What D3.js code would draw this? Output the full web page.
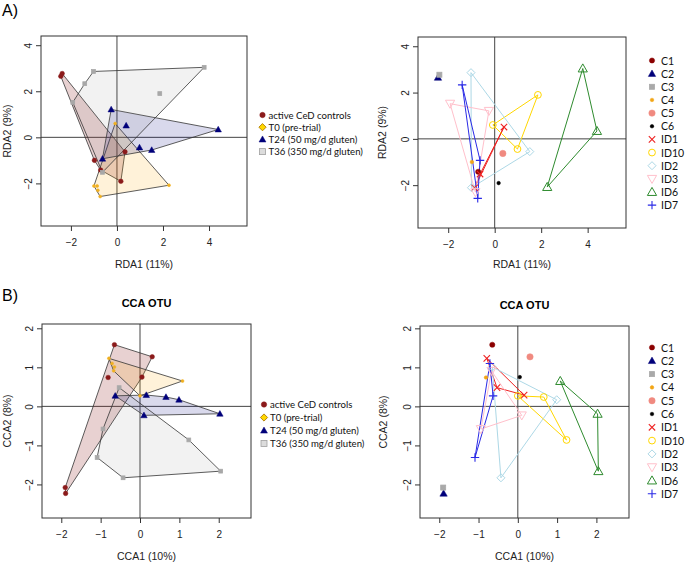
<!DOCTYPE html>
<html>
<head>
<meta charset="utf-8">
<script src="https://cdn.jsdelivr.net/npm/d3@7"></script>
<style>
  body { margin: 0; background: #fff; }
  svg { display: block; }
</style>
</head>
<body>
<div id="chart"></div>
<script>
// sample / group names
var controls = ["C1", "C2", "C3", "C4", "C5", "C6"];
var patients = ["ID1", "ID10", "ID2", "ID3", "ID6", "ID7"];
var groupNames = ["active CeD controls", "T0 (pre-trial)", "T24 (50 mg/d gluten)", "T36 (350 mg/d gluten)"];
var sampleNames = ["C1", "C2", "C3", "C4", "C5", "C6", "ID1", "ID10", "ID2", "ID3", "ID6", "ID7"];

// RDA scores (RDA1, RDA2)
var rdaControls = [[-0.71, -1.42], [-2.44, 2.65], [-2.38, 2.77], [-0.98, -1.0], [0.35, -0.63], [0.17, -1.91]];
var rdaT0 = [[-0.86, -2.11], [-0.08, 0.6], [-1.0, -2.11], [-0.83, -2.3], [2.26, -2.08], [-0.73, -2.57]];
var rdaT24 = [[0.4, 0.51], [0.98, -0.44], [1.51, -0.55], [-0.25, 1.21], [4.4, 0.34], [-0.63, -0.93]];
var rdaT36 = [[-0.63, -1.52], [1.86, 1.9], [-1.02, 2.86], [-1.92, 1.52], [3.79, 3.04], [-1.4, 2.33]];

// CCA scores (CCA1, CCA2)
var ccaControls = [[-0.65, 1.58], [-1.89, -2.23], [-1.9, -2.08], [-0.81, 0.74], [0.31, 1.27], [0.05, 0.75]];
var ccaT0 = [[-0.79, 1.23], [0.0, 0.27], [-0.65, 1.01], [-0.67, 0.91], [1.08, 0.65], [-0.71, 1.1]];
var ccaT24 = [[0.16, 0.29], [0.66, 0.24], [0.99, 0.17], [0.1, -0.23], [2.03, -0.19], [-0.63, 0.27]];
var ccaT36 = [[-0.53, 0.48], [1.24, -0.86], [-0.43, -1.83], [-0.94, -0.58], [2.05, -1.66], [-1.09, -1.31]];

var rdaXTicks = [-2, 0, 2, 4];
var rdaYTicks = [-2, 0, 2, 4];
var ccaXTicks = [-2, -1, 0, 1, 2];
var ccaYTicks = [-2, -1, 0, 1, 2];

var width = 685;
var height = 564;
var arial = "'Liberation Sans', Arial, sans-serif";
var legFont = "Lato, 'Open Sans', sans-serif";

var svg = d3.select("#chart").append("svg")
  .attr("width", width)
  .attr("height", height);

// group styling (left panels)
var grpFill = ["rgba(139,26,26,0.2)", "rgba(255,165,0,0.15)", "rgba(0,0,128,0.15)", "rgba(128,128,128,0.1)"];

// per-sample styling (right panels)
var sampleStyle = {
  C1: { shape: "circle", color: "#8b0000", size: 2.6, fill: true },
  C2: { shape: "triangle", color: "#00007a", size: 3.2, fill: true },
  C3: { shape: "square", color: "#a9a9a9", size: 2.5, fill: true },
  C4: { shape: "circle", color: "#f2a515", size: 1.8, fill: true },
  C5: { shape: "circle", color: "#f08a80", size: 3.2, fill: true },
  C6: { shape: "circle", color: "#000000", size: 1.8, fill: true },
  ID1: { shape: "x", color: "#ee2222", size: 3.2 },
  ID10: { shape: "circle", color: "#ffd700", size: 3.4 },
  ID2: { shape: "diamond", color: "#add8e6", size: 4 },
  ID3: { shape: "tridown", color: "#ffc0cb", size: 4 },
  ID6: { shape: "triangle", color: "#2e8b2e", size: 4 },
  ID7: { shape: "plus", color: "#2a2ae6", size: 4.2 },
};

function drawMarker(g, x, y, st) {
  var s = st.size;
  var fill = st.fill ? st.color : "none";
  if (st.shape === "circle") {
    g.append("circle").attr("cx", x).attr("cy", y).attr("r", s)
      .attr("fill", st.fill ? st.color : "none")
      .attr("stroke", st.color).attr("stroke-width", st.fill ? 0.5 : 1);
  } else if (st.shape === "square") {
    g.append("rect").attr("x", x - s).attr("y", y - s).attr("width", 2 * s).attr("height", 2 * s)
      .attr("fill", st.fillColor || fill).attr("stroke", st.color).attr("stroke-width", 0.8);
  } else if (st.shape === "triangle") {
    var h = s * 1.15;
    g.append("path").attr("d", `M${x},${y - h}L${x + h},${y + h * 0.75}L${x - h},${y + h * 0.75}Z`)
      .attr("fill", fill).attr("stroke", st.color).attr("stroke-width", st.fill ? 0.5 : 1);
  } else if (st.shape === "tridown") {
    var h2 = s * 1.15;
    g.append("path").attr("d", `M${x},${y + h2}L${x + h2},${y - h2 * 0.75}L${x - h2},${y - h2 * 0.75}Z`)
      .attr("fill", fill).attr("stroke", st.color).attr("stroke-width", 1);
  } else if (st.shape === "diamond") {
    g.append("path").attr("d", `M${x},${y - s}L${x + s},${y}L${x},${y + s}L${x - s},${y}Z`)
      .attr("fill", st.fillColor || fill).attr("stroke", st.color).attr("stroke-width", 1);
  } else if (st.shape === "plus") {
    g.append("path").attr("d", `M${x - s},${y}H${x + s}M${x},${y - s}V${y + s}`)
      .attr("stroke", st.color).attr("stroke-width", 1.1);
  } else if (st.shape === "x") {
    g.append("path").attr("d", `M${x - s},${y - s}L${x + s},${y + s}M${x - s},${y + s}L${x + s},${y - s}`)
      .attr("stroke", st.color).attr("stroke-width", 1.1);
  }
}

// left-panel point styles (controls, T0, T24, T36)
var grpPoint = [
  { shape: "circle", color: "#8b1a1a", size: 2.3, fill: true },
  { shape: "circle", color: "#f0b020", size: 1.5, fill: true },
  { shape: "triangle", color: "#00007a", size: 2.8, fill: true },
  { shape: "square", color: "#a8a8a8", size: 1.9, fill: true },
];
var grpLegend = [
  { shape: "circle", color: "#8b1a1a", size: 2.7, fill: true },
  { shape: "diamond", color: "#b8860b", fillColor: "#ffd700", size: 3.6 },
  { shape: "triangle", color: "#00007a", size: 3, fill: true },
  { shape: "square", color: "#a0a0a0", fillColor: "#dcdcdc", size: 3 },
];

function makeFrame(p) {
  var x = d3.scaleLinear().domain(p.xd).range([p.x0, p.x1]);
  var y = d3.scaleLinear().domain(p.yd).range([p.y1, p.y0]);
  var g = svg.append("g");

  // origin lines
  g.append("line").attr("x1", p.x0).attr("x2", p.x1).attr("y1", y(0)).attr("y2", y(0))
    .attr("stroke", "#444").attr("stroke-width", 1);
  g.append("line").attr("x1", x(0)).attr("x2", x(0)).attr("y1", p.y0).attr("y2", p.y1)
    .attr("stroke", "#444").attr("stroke-width", 1);

  var xAxis = g.append("g").attr("transform", `translate(0,${p.y1})`)
    .call(d3.axisBottom(x).tickValues(p.xt).tickFormat(d3.format("d")).tickSize(5).tickPadding(8));
  var yAxis = g.append("g").attr("transform", `translate(${p.x0},0)`)
    .call(d3.axisLeft(y).tickValues(p.yt).tickFormat(d3.format("d")).tickSize(5).tickPadding(8));
  [xAxis, yAxis].forEach((a) => {
    a.select(".domain").remove();
    a.attr("font-family", null).attr("font-size", null);
    a.selectAll("line").attr("stroke", "#333");
    a.selectAll("text").attr("fill", "#222")
      .style("font-family", arial).style("font-size", "10px");
  });
  yAxis.selectAll(".tick text")
    .attr("x", null).attr("dy", null)
    .attr("text-anchor", "middle")
    .attr("transform", "translate(-13,0) rotate(-90) translate(0,3.5)");

  g.append("text").attr("text-anchor", "middle")
    .attr("x", (p.x0 + p.x1) / 2).attr("y", p.xlabY)
    .style("font-family", arial).style("font-size", "10.5px").attr("fill", "#222")
    .text(p.xlab);
  g.append("text").attr("text-anchor", "middle")
    .attr("transform", `translate(${p.ylabX},${(p.y0 + p.y1) / 2}) rotate(-90)`)
    .style("font-family", arial).style("font-size", "10.5px").attr("fill", "#222")
    .text(p.ylab);

  if (p.title) {
    g.append("text").attr("text-anchor", "middle")
      .attr("x", (p.x0 + p.x1) / 2).attr("y", p.y0 - 17)
      .style("font-family", arial)
      .style("font-weight", "bold").style("font-size", "11px")
      .text(p.title);
  }

  var plot = svg.append("g");
  svg.append("rect").attr("x", p.x0).attr("y", p.y0)
    .attr("width", p.x1 - p.x0).attr("height", p.y1 - p.y0)
    .attr("fill", "none").attr("stroke", "#333").attr("stroke-width", 1);
  return { x: x, y: y, g: plot };
}

function groupPanel(p, groups) {
  var f = makeFrame(p);
  groups.forEach((pts, i) => {
    var hull = d3.polygonHull(pts.map((d) => [f.x(d[0]), f.y(d[1])]));
    f.g.append("path").attr("d", "M" + hull.join("L") + "Z")
      .attr("fill", grpFill[i]).attr("stroke", "#333").attr("stroke-width", 0.8);
  });
  groups.forEach((pts, i) => {
    pts.forEach((d) => drawMarker(f.g, f.x(d[0]), f.y(d[1]), grpPoint[i]));
  });
  // legend
  var lg = svg.append("g");
  groupNames.forEach((n, i) => {
    var yy = p.legY + i * p.legStep;
    drawMarker(lg, p.legX, yy, grpLegend[i]);
    lg.append("text").attr("x", p.legX + 6).attr("y", yy + 3.5)
      .style("font-family", legFont).style("font-size", "9.6px").attr("fill", "#111")
      .text(n);
  });
}

function samplePanel(p, ctrl, visits) {
  var f = makeFrame(p);
  patients.forEach((id, j) => {
    var pts = visits.map((v) => [f.x(v[j][0]), f.y(v[j][1])]);
    var hull = d3.polygonHull(pts);
    f.g.append("path").attr("d", "M" + hull.join("L") + "Z")
      .attr("fill", "none").attr("stroke", sampleStyle[id].color).attr("stroke-width", 1);
  });
  ctrl.forEach((d, i) => drawMarker(f.g, f.x(d[0]), f.y(d[1]), sampleStyle[controls[i]]));
  patients.forEach((id, j) => {
    visits.forEach((v) => drawMarker(f.g, f.x(v[j][0]), f.y(v[j][1]), sampleStyle[id]));
  });
  var lg = svg.append("g");
  sampleNames.forEach((n, i) => {
    var yy = p.legY + i * p.legStep;
    drawMarker(lg, p.legX, yy, sampleStyle[n]);
    lg.append("text").attr("x", p.legX + 9).attr("y", yy + 4)
      .style("font-family", legFont).style("font-size", "10.5px").attr("fill", "#111")
      .text(n);
  });
}

var rdaXd = [-3.3, 5.65];
var rdaYd = [-3.85, 4.4];

groupPanel({
  x0: 41, x1: 247, y0: 36, y1: 226, xd: rdaXd, yd: rdaYd, xt: rdaXTicks, yt: rdaYTicks,
  xlab: "RDA1 (11%)", ylab: "RDA2 (9%)", xlabY: 268, ylabX: 11,
  legX: 262.5, legY: 115, legStep: 12.2,
}, [rdaControls, rdaT0, rdaT24, rdaT36]);

samplePanel({
  x0: 418, x1: 626, y0: 37, y1: 228, xd: rdaXd, yd: rdaYd, xt: rdaXTicks, yt: rdaYTicks,
  xlab: "RDA1 (11%)", ylab: "RDA2 (9%)", xlabY: 268, ylabX: 386,
  legX: 652, legY: 60.5, legStep: 13.15,
}, rdaControls, [rdaT0, rdaT24, rdaT36]);

groupPanel({
  x0: 42, x1: 251, y0: 324, y1: 518, xd: [-2.49, 2.82], yd: [-2.86, 2.11], xt: ccaXTicks, yt: ccaYTicks,
  xlab: "CCA1 (10%)", ylab: "CCA2 (8%)", xlabY: 560, ylabX: 11, title: "CCA OTU",
  legX: 264, legY: 404.5, legStep: 13,
}, [ccaControls, ccaT0, ccaT24, ccaT36]);

samplePanel({
  x0: 420, x1: 629, y0: 326, y1: 518, xd: [-2.49, 2.83], yd: [-2.86, 2.06], xt: ccaXTicks, yt: ccaYTicks,
  xlab: "CCA1 (10%)", ylab: "CCA2 (8%)", xlabY: 560, ylabX: 387, title: "CCA OTU",
  legX: 652, legY: 347.5, legStep: 13.3,
}, ccaControls, [ccaT0, ccaT24, ccaT36]);

// panel letters
svg.append("text").attr("x", 2).attr("y", 16).text("A)")
  .style("font-family", arial).style("font-size", "16px");
svg.append("text").attr("x", 2).attr("y", 301).text("B)")
  .style("font-family", arial).style("font-size", "16px");
</script>
</body>
</html>
